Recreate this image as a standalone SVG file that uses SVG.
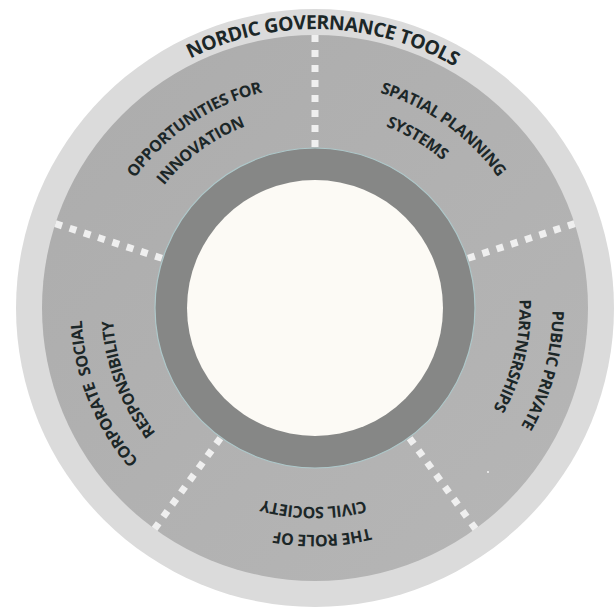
<svg xmlns="http://www.w3.org/2000/svg" width="616" height="611" viewBox="0 0 616 611">
<style>
.lbl{font-family:"Open Sans","Noto Sans","Liberation Sans",sans-serif;font-weight:700;font-size:16px;letter-spacing:-0.45px;fill:#1c2728}
.ttl{font-family:"Open Sans","Noto Sans","Liberation Sans",sans-serif;font-weight:700;font-size:19.5px;letter-spacing:-0.5px;fill:#1c2728}
.div{stroke:#efefef;stroke-width:7;stroke-dasharray:7 8;fill:none}
</style>
<defs>
<linearGradient id="band" x1="0" y1="0" x2="1" y2="1">
<stop offset="0" stop-color="#acacac"/>
<stop offset="1" stop-color="#b6b6b6"/>
</linearGradient>
<path id="pT" d="M36.04,303.13 A279,279 0 0 1 593.96,312.87"/>
<path id="pA1" d="M130.54,432.42 A222.5,222.5 0 0 1 499.46,183.58"/>
<path id="pA2" d="M156.76,422.97 A195.6,195.6 0 0 1 473.24,193.03"/>
<path id="pB1" d="M132.05,177.02 A225,225 0 0 1 497.95,438.98"/>
<path id="pB2" d="M146.57,206.80 A196.5,196.5 0 0 1 483.43,409.20"/>
<path id="pC1" d="M377.30,78.71 A237.6,237.6 0 0 1 252.70,537.29"/>
<path id="pC2" d="M362.76,109.05 A204.6,204.6 0 0 1 267.24,506.95"/>
<path id="pD1" d="M541.89,300.87 A227,227 0 0 1 88.11,315.13"/>
<path id="pD2" d="M514.00,309.39 A199,199 0 0 1 116.00,306.61"/>
<path id="pE1" d="M402.51,524.59 A233.6,233.6 0 0 1 227.49,91.41"/>
<path id="pE2" d="M387.63,498.20 A203.6,203.6 0 0 1 242.37,117.80"/>
</defs>
<rect width="616" height="611" fill="#ffffff"/>
<circle cx="315" cy="308" r="299" fill="#dbdbdb"/>
<circle cx="315" cy="308" r="273" fill="url(#band)"/>
<circle cx="315" cy="308" r="160" fill="#868786" stroke="#aec8ca" stroke-width="1.2"/>
<circle id="core" cx="315" cy="308" r="128" fill="#fcfaf5"/>
<g id="title">
<text class="ttl"><textPath href="#pT" startOffset="50.4%" text-anchor="middle">NORDIC GOVERNANCE TOOLS</textPath></text>
</g>
<g id="connectors">
<line class="div" x1="315" y1="35" x2="315" y2="148"/>
<line class="div" x1="574.64" y1="223.64" x2="467.17" y2="258.56"/>
<line class="div" x1="475.47" y1="528.86" x2="409.05" y2="437.44"/>
<line class="div" x1="154.53" y1="528.86" x2="220.95" y2="437.44"/>
<line class="div" x1="55.36" y1="223.64" x2="162.83" y2="258.56"/>
</g>
<g id="innovation">
<text class="lbl"><textPath href="#pA1" startOffset="50%" text-anchor="middle">OPPORTUNITIES FOR</textPath></text>
<text class="lbl"><textPath href="#pA2" startOffset="50%" text-anchor="middle">INNOVATION</textPath></text>
</g>
<g id="spatial">
<text class="lbl"><textPath href="#pB1" startOffset="50%" text-anchor="middle">SPATIAL PLANNING</textPath></text>
<text class="lbl"><textPath href="#pB2" startOffset="50%" text-anchor="middle">SYSTEMS</textPath></text>
</g>
<g id="ppp">
<text class="lbl"><textPath href="#pC1" startOffset="50%" text-anchor="middle">PUBLIC PRIVATE</textPath></text>
<text class="lbl"><textPath href="#pC2" startOffset="50%" text-anchor="middle">PARTNERSHIPS</textPath></text>
</g>
<g id="civil">
<text class="lbl"><textPath href="#pD1" startOffset="50%" text-anchor="middle">THE ROLE OF</textPath></text>
<text class="lbl"><textPath href="#pD2" startOffset="50%" text-anchor="middle">CIVIL SOCIETY</textPath></text>
</g>
<g id="csr">
<text class="lbl" xml:space="preserve"><textPath href="#pE1" startOffset="50%" text-anchor="middle">CORPORATE  SOCIAL</textPath></text>
<text class="lbl"><textPath href="#pE2" startOffset="50%" text-anchor="middle">RESPONSIBILITY</textPath></text>
</g>
<circle cx="488" cy="472" r="1" fill="#f4f4f4"/>
</svg>
